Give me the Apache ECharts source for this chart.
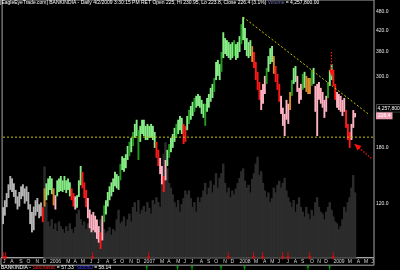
<!DOCTYPE html>
<html><head><meta charset="utf-8">
<script src="https://cdn.jsdelivr.net/npm/echarts@6/dist/echarts.min.js"></script>
<style>html,body{margin:0;padding:0;background:#000}#c{width:400px;height:270px}</style>
</head><body><div id="c"></div>
<script>
// ---------------- data (weekly) ----------------
const START_WEEK = '2005-07-04';
const N_SLOTS = 206;
const HIGH = [117,123,129.5,138,146.5,144,139,132.5,126.5,130.5,
136,138,134,136,130.5,119.5,113,117.5,123,125,
119.5,121,117,134,139,144,146.5,144,134,127.5,
142,144,146.5,142,146.5,142,144,140,134,129.5,
126.5,127.5,142,157.5,151,140,132.5,125,115,111,
113,110,107,102,97.5,110,118.5,123,130.5,136,
140,144,151,148.5,146.5,160,169,167,171.5,182,
187.5,193,201.5,213.5,220,204,210.5,220,220,210.5,
213.5,210.5,213.5,210.5,201.5,187.5,177,167,157.5,146.5,
164.5,177,184.5,193,198.5,207.5,213.5,220,226,223,
213.5,210.5,226,236,243,250.5,257.5,261.5,265,261.5,
254,247,247,257.5,265,277,285,297.5,334,339,
329,359,414,397,391,385.5,380,385.5,391,380,
385.5,402.5,439,462,427,397,385.5,391,374.5,359,
334,311,289,273,285,302,320,348.5,369,374.5,
348.5,324.5,306.5,285,261.5,240,229.5,254,247,269,
293,320,324.5,302,277,285,306.5,311,302,297.5,
297.5,315,320,281,285,289,277,269,254,261.5,
289,315,329,315,285,269,265,261.5,254,257.5,
236,213.5,201.5,213.5,236,230.95];
const LOW = [103.5,110,117,125,132.5,130.5,126,120,115,117.5,
124,126.5,120,122,115,103.5,97.5,99,110,113,
108,109.5,105,117.5,123,127.5,132.5,128.5,118.5,115,
126.5,130.5,131.5,130.5,132.5,129.5,132.5,126.5,123,117.5,
115,116.5,126,137,134,125,117,108,100.5,97.5,
99,97.5,93,90.5,86.5,92,105,111,117.5,123,
126.5,130.5,136,134,132.5,142,153,151,155,164.5,
169,174,182,193,195.5,164.5,187.5,198.5,195.5,190,
190,193,193,190,179.5,167,157.5,148.5,138,130.5,
142,157.5,167,174,179.5,187.5,193,198.5,204,198.5,
184.5,187.5,204,213.5,220,226,233,240,243,240,
229.5,223,210.5,233,240,250.5,257.5,269,293,302,
293,311,343.5,353.5,348.5,343.5,339,343.5,348.5,339,
343.5,359,380,391,364,348.5,343.5,348.5,334,320,
293,273,254,236,247,265,285,311,329,334,
306.5,289,273,250.5,229.5,210.5,195.5,220,213.5,236,
261.5,285,289,269,247,254,273,277,269,265,
265,281,285,233,195.5,254,247,240,223,233,
257.5,281,293,281,254,240,236,233,226,233,
207.5,190,179.5,190,207.5,223.8];
// colour class of each weekly bar: g grey, G green, D dark green, R red, P pink, O orange
const BAR_CLASS = ("gggggggggggggggggggggg"+"R"+"O"+"GGGG"+"O"+"P"+"GGGGGGGG"+"RR"+"P"+"GGG"+"RRR"+"PPPPPPP"+"R"+"P"+
  "DGGGGGGGGDGGGGDGDGGDGGGGGGGGG"+"RR"+"PP"+"R"+"P"+"GDGGGDGGG"+"RR"+
  "GDGGDGGGGGDGGGGDGGGDGGGGGGDGGGDGGGGG"+"O"+"RRRR"+"PPP"+"DGGG"+"O"+"RRR"+"PPPPP"+"O"+"DGG"+"PPP"+"DG"+"OOO"+"DG"+
  "PPPPPPP"+"DGG"+"RR"+"PPPPP"+"RRR"+"PPP").split('');
const VOLUME_START = 23;
const VOLUME_M = [4.78,2.91,1.90,1.65,2.01,1.50,1.80,1.40,1.90,1.65,
1.50,1.30,1.65,1.40,1.80,1.50,1.30,1.60,2.31,2.51,
2.01,1.70,1.90,1.50,1.80,1.60,1.30,1.65,1.50,1.80,
1.40,2.01,1.90,1.50,1.30,1.40,1.60,1.20,1.50,1.40,
2.01,2.51,1.80,1.90,2.16,1.65,2.01,2.31,1.90,2.66,
2.91,2.41,3.02,2.31,2.51,2.71,2.41,2.91,2.61,2.31,
3.02,2.81,3.17,2.91,2.66,4.18,5.44,6.05,4.68,3.92,
3.67,3.32,2.91,2.66,3.02,2.41,2.81,3.12,3.52,3.32,
3.52,3.12,2.66,2.91,2.41,3.17,2.91,3.17,3.52,3.92,
3.32,3.67,4.03,3.42,3.82,4.43,3.67,4.18,4.43,4.93,
3.92,3.42,3.67,3.17,3.52,3.32,3.62,3.92,4.18,4.53,
4.68,4.03,3.67,3.82,3.42,4.13,4.43,4.93,5.29,4.33,
4.53,3.92,3.52,3.17,3.42,2.91,3.12,3.67,3.42,3.82,
4.03,3.67,3.92,4.18,3.52,3.17,2.91,2.66,3.02,2.41,
2.81,3.17,2.66,2.41,2.16,2.66,2.31,2.01,2.51,2.21,
2.91,3.17,2.66,2.41,2.31,2.01,2.41,2.66,2.91,2.51,
2.16,1.90,1.80,1.50,1.65,2.01,2.66,2.41,2.91,3.17,
3.67,4.33,3.42];
const PRICE_TICKS = [120,180,300,360,420,480];
const PRICE_RANGE = [81.2, 522.6];
const VOLUME_MAX_M = 13.5;
const SUPPORT = 194;
const TRENDLINE = [[133, 462], [203, 228]];
const ARROW_PEAK = [[182, 359], [182, 308.5]];
const ARROW_LOW = [[204, 166.5], [196, 182]];
const SELL_SIGNALS = [1,2,50,81,125,139,144,155,158,170,183];
const BUY_SIGNALS = [80,97,105,121,134,169,181];
const LAST_CLOSE = 226.4;
const LAST_VOLUME_TEXT = '4,257,800';
const TITLE = '[EagleEyeTrade.com] BANKINDIA - Daily 4/2/2009 3:30:15 PM RET Open 225, Hi 230.95, Lo 223.8, Close 226.4 (3.1%) {v|Volume} = 4,257,800.00';
const FOOTER = 'BANKINDIA - {r|Stochastic} = 57.33  {b|StochD} = 58.14';

// ---------------- build ----------------
const COLORS = {g:'#b4b4b4', G:'#86ec86', D:'#1f9a1f', R:'#ff1818', P:'#ffb2c2', O:'#d88a28'};
const cats = [];
const t0 = new Date(START_WEEK + 'T00:00:00Z').getTime();
for (let k = 0; k < N_SLOTS; k++) cats.push(new Date(t0 + k * 7 * 86400000).toISOString().slice(0, 10));
const MI = ['J','F','M','A','M','J','J','A','S','O','N','D'];
function monthStart(i){ return i === 0 || cats[i].slice(5,7) !== cats[i-1].slice(5,7); }

const priceData = HIGH.map((h, i) => [i, Math.log(h), Math.log(LOW[i])]);
const volData = VOLUME_M.map((v, k) => [VOLUME_START + k, v]);
const L = Math.log;
const font = 'Liberation Sans';

const chart = echarts.init(document.getElementById('c'), null, {renderer:'canvas', width:400, height:270});
chart.setOption({
  backgroundColor: '#000',
  animation: false,
  title: {text: TITLE, left: 0, top: 0, padding: 0,
    textStyle: {fontSize: 5, color: '#ffffff', fontWeight: 'normal', fontFamily: font, rich: {v: {color: '#7070b8', fontSize: 5, fontFamily: font}}}},
  grid: [
    {left: 1, right: 26, top: 0, bottom: 12.3, show: true, borderColor: '#a8a8a8', borderWidth: 1},
    {left: 1, right: 26, top: 257.7, height: 7.5, show: true, borderColor: '#a8a8a8', borderWidth: 1}
  ],
  xAxis: [
    {type: 'category', gridIndex: 0, data: cats, boundaryGap: true,
      axisLine: {show: false}, axisTick: {show: false},
      axisLabel: {color: '#d8d8d8', fontSize: 5, fontFamily: font, margin: 1.5, align: 'left',
        interval: (i) => monthStart(i) && cats[i].slice(5,7) !== '02',
        formatter: (v) => v.slice(5,7) === '01' ? v.slice(0,4) : MI[+v.slice(5,7) - 1]}},
    {type: 'category', gridIndex: 1, data: cats, boundaryGap: true, show: false}
  ],
  yAxis: [
    {type: 'value', gridIndex: 0, position: 'right', min: L(PRICE_RANGE[0]), max: L(PRICE_RANGE[1]),
      splitLine: {show: false}, axisLine: {show: false}, axisTick: {show: false},
      axisLabel: {color: '#e8e8e8', fontSize: 5, fontFamily: font, margin: 2,
        customValues: PRICE_TICKS.map(L), formatter: (v) => Math.exp(v).toFixed(1)}},
    {type: 'value', gridIndex: 0, min: 0, max: VOLUME_MAX_M, show: false},
    {type: 'value', gridIndex: 1, min: 0, max: 1, show: false}
  ],
  series: [
    {type: 'custom', xAxisIndex: 0, yAxisIndex: 1, data: volData, encode: {x: 0, y: 1}, z: 1, silent: true,
      renderItem: (params, api) => {
        const i = api.value(0);
        const top = api.coord([i, api.value(1)]);
        const base = api.coord([i, 0]);
        const w = api.size([1, 0])[0];
        return {type: 'rect', shape: {x: top[0] - w / 2 - 0.3, y: top[1], width: w + 0.6, height: base[1] - top[1]},
          style: {fill: '#2c2c2c'}};
      }},
    {type: 'custom', xAxisIndex: 0, yAxisIndex: 0, data: priceData, encode: {x: 0, y: [1, 2]}, z: 3, silent: true,
      renderItem: (params, api) => {
        const i = api.value(0);
        const top = api.coord([i, api.value(1)]);
        const bot = api.coord([i, api.value(2)]);
        const w = api.size([1, 0])[0];
        return {type: 'rect', shape: {x: top[0] - w / 2, y: top[1], width: w + 0.1, height: Math.max(1, bot[1] - top[1])},
          style: {fill: COLORS[BAR_CLASS[params.dataIndex]]}};
      }},
    {type: 'line', xAxisIndex: 0, yAxisIndex: 0, data: [[0, L(SUPPORT)], [N_SLOTS - 1, L(SUPPORT)]], showSymbol: false, z: 4, silent: true,
      lineStyle: {color: '#c8c400', width: 1, type: [2, 2]}},
    {type: 'line', xAxisIndex: 0, yAxisIndex: 0, data: TRENDLINE.map(p => [p[0], L(p[1])]), showSymbol: false, z: 4, silent: true,
      lineStyle: {color: '#c8c400', width: 1, type: [2, 2]},
      markLine: {silent: true, symbol: ['none', 'triangle'], symbolSize: [5, 7], label: {show: false},
        lineStyle: {color: '#ff1010', width: 1.2, type: [1.5, 1.5]},
        data: [
          [{coord: [ARROW_PEAK[0][0], L(ARROW_PEAK[0][1])]}, {coord: [ARROW_PEAK[1][0], L(ARROW_PEAK[1][1])]}],
          [{coord: [ARROW_LOW[0][0], L(ARROW_LOW[0][1])]}, {coord: [ARROW_LOW[1][0], L(ARROW_LOW[1][1])], symbolSize: [6, 7]}]
        ]}},
    {type: 'scatter', xAxisIndex: 1, yAxisIndex: 2, clip: false, z: 5, silent: true,
      data: SELL_SIGNALS.map(i => [i, 1.2]),
      symbol: 'path://M2,0 L4,0 L4,5 L6,5 L3,10 L0,5 L2,5 Z', symbolSize: [3, 8], itemStyle: {color: '#ff0000'}},
    {type: 'scatter', xAxisIndex: 1, yAxisIndex: 2, clip: false, z: 5, silent: true,
      data: BUY_SIGNALS.map(i => [i, -0.3]),
      symbol: 'path://M3,0 L6,5 L4,5 L4,10 L2,10 L2,5 L0,5 Z', symbolSize: [3, 5], itemStyle: {color: '#00c000'}}
  ]
});

const yClose = chart.convertToPixel({xAxisIndex: 0, yAxisIndex: 0}, [HIGH.length - 1, L(LAST_CLOSE)])[1];
chart.setOption({graphic: [
  {type: 'text', left: 376, top: yClose - 11.5, z: 10,
    style: {text: LAST_VOLUME_TEXT, fill: '#ffffff', font: '5px "Liberation Sans"', backgroundColor: '#000', borderColor: '#808080', borderWidth: 0.5, padding: [1, 1]}},
  {type: 'text', left: 376, top: yClose - 3.5, z: 10,
    style: {text: LAST_CLOSE.toFixed(1), fill: '#ffffff', font: '5px "Liberation Sans"', backgroundColor: '#f0a0b4', padding: [1, 2]}},
  {type: 'text', left: 1, top: 265.5, z: 10,
    style: {text: FOOTER, fill: '#ffffff', font: '5px "Liberation Sans"',
      rich: {r: {fill: '#ff2020', font: '5px "Liberation Sans"'}, b: {fill: '#4040ff', font: '5px "Liberation Sans"'}}}}
]});
</script></body></html>
